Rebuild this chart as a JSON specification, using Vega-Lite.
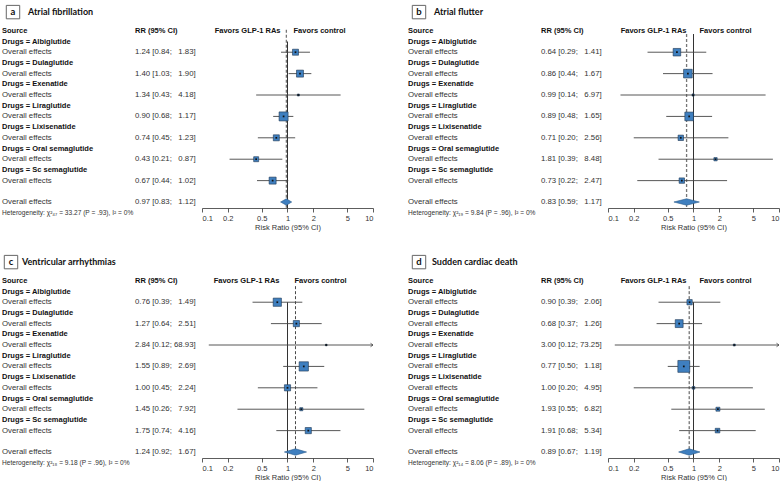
{
  "$schema": "https://vega.github.io/schema/vega-lite/v6.json",
  "padding": {"left": 2, "top": 3, "right": 0, "bottom": 0},
  "background": "white",
  "config": {
    "view": {"stroke": null},
    "font": "Arial",
    "text": {"font": "Arial", "fontSize": 7.5, "fill": "#333"},
    "axis": {"domainColor": "#333", "tickColor": "#333", "labelColor": "#333", "titleColor": "#333", "labelFont": "Arial", "titleFont": "Arial", "labelFontSize": 7.5, "titleFontSize": 7.5, "titleFontWeight": "normal", "tickSize": 4, "labelPadding": 2, "titlePadding": 2, "grid": false, "domainWidth": 0.8, "tickWidth": 0.8}
  },
  "datasets": {
    "f": [
      {"p": "a", "row": 1, "kind": "h", "label": "Drugs = Albiglutide"},
      {"p": "a", "row": 2, "kind": "s", "label": "Overall effects", "rr": 1.24, "lo": 0.84, "hi": 1.83, "ci": "1.24 [0.84; \u20071.83]", "w": 12.9},
      {"p": "a", "row": 3, "kind": "h", "label": "Drugs = Dulaglutide"},
      {"p": "a", "row": 4, "kind": "s", "label": "Overall effects", "rr": 1.40, "lo": 1.03, "hi": 1.90, "ci": "1.40 [1.03; \u20071.90]", "w": 17.5},
      {"p": "a", "row": 5, "kind": "h", "label": "Drugs = Exenatide"},
      {"p": "a", "row": 6, "kind": "s", "label": "Overall effects", "rr": 1.34, "lo": 0.43, "hi": 4.18, "ci": "1.34 [0.43; \u20074.18]", "w": 1.4},
      {"p": "a", "row": 7, "kind": "h", "label": "Drugs = Liraglutide"},
      {"p": "a", "row": 8, "kind": "s", "label": "Overall effects", "rr": 0.90, "lo": 0.68, "hi": 1.17, "ci": "0.90 [0.68; \u20071.17]", "w": 28.9},
      {"p": "a", "row": 9, "kind": "h", "label": "Drugs = Lixisenatide"},
      {"p": "a", "row": 10, "kind": "s", "label": "Overall effects", "rr": 0.74, "lo": 0.45, "hi": 1.23, "ci": "0.74 [0.45; \u20071.23]", "w": 12.9},
      {"p": "a", "row": 11, "kind": "h", "label": "Drugs = Oral semaglutide"},
      {"p": "a", "row": 12, "kind": "s", "label": "Overall effects", "rr": 0.43, "lo": 0.21, "hi": 0.87, "ci": "0.43 [0.21; \u20070.87]", "w": 8.9},
      {"p": "a", "row": 13, "kind": "h", "label": "Drugs = Sc semaglutide"},
      {"p": "a", "row": 14, "kind": "s", "label": "Overall effects", "rr": 0.67, "lo": 0.44, "hi": 1.02, "ci": "0.67 [0.44; \u20071.02]", "w": 17.5},
      {"p": "a", "row": 16, "kind": "o", "label": "Overall effects", "rr": 0.97, "lo": 0.83, "hi": 1.12, "ci": "0.97 [0.83; \u20071.12]"},
      {"p": "a", "row": 17, "kind": "het", "label": "Heterogeneity: χ²₄₇ = 33.27 (P = .93), I² = 0%"},

      {"p": "b", "row": 1, "kind": "h", "label": "Drugs = Albiglutide"},
      {"p": "b", "row": 2, "kind": "s", "label": "Overall effects", "rr": 0.64, "lo": 0.29, "hi": 1.41, "ci": "0.64 [0.29; \u20071.41]", "w": 20.4},
      {"p": "b", "row": 3, "kind": "h", "label": "Drugs = Dulaglutide"},
      {"p": "b", "row": 4, "kind": "s", "label": "Overall effects", "rr": 0.86, "lo": 0.44, "hi": 1.67, "ci": "0.86 [0.44; \u20071.67]", "w": 26.7},
      {"p": "b", "row": 5, "kind": "h", "label": "Drugs = Exenatide"},
      {"p": "b", "row": 6, "kind": "s", "label": "Overall effects", "rr": 0.99, "lo": 0.14, "hi": 6.97, "ci": "0.99 [0.14; \u20076.97]", "w": 1.7},
      {"p": "b", "row": 7, "kind": "h", "label": "Drugs = Liraglutide"},
      {"p": "b", "row": 8, "kind": "s", "label": "Overall effects", "rr": 0.89, "lo": 0.48, "hi": 1.65, "ci": "0.89 [0.48; \u20071.65]", "w": 26.7},
      {"p": "b", "row": 9, "kind": "h", "label": "Drugs = Lixisenatide"},
      {"p": "b", "row": 10, "kind": "s", "label": "Overall effects", "rr": 0.71, "lo": 0.20, "hi": 2.56, "ci": "0.71 [0.20; \u20072.56]", "w": 10.4},
      {"p": "b", "row": 11, "kind": "h", "label": "Drugs = Oral semaglutide"},
      {"p": "b", "row": 12, "kind": "s", "label": "Overall effects", "rr": 1.81, "lo": 0.39, "hi": 8.48, "ci": "1.81 [0.39; \u20078.48]", "w": 3.8},
      {"p": "b", "row": 13, "kind": "h", "label": "Drugs = Sc semaglutide"},
      {"p": "b", "row": 14, "kind": "s", "label": "Overall effects", "rr": 0.73, "lo": 0.22, "hi": 2.47, "ci": "0.73 [0.22; \u20072.47]", "w": 10.4},
      {"p": "b", "row": 16, "kind": "o", "label": "Overall effects", "rr": 0.83, "lo": 0.59, "hi": 1.17, "ci": "0.83 [0.59; \u20071.17]"},
      {"p": "b", "row": 17, "kind": "het", "label": "Heterogeneity: χ²₁₉ = 9.84 (P = .96), I² = 0%"},

      {"p": "c", "row": 1, "kind": "h", "label": "Drugs = Albiglutide"},
      {"p": "c", "row": 2, "kind": "s", "label": "Overall effects", "rr": 0.76, "lo": 0.39, "hi": 1.49, "ci": "0.76 [0.39; \u20071.49]", "w": 24.2},
      {"p": "c", "row": 3, "kind": "h", "label": "Drugs = Dulaglutide"},
      {"p": "c", "row": 4, "kind": "s", "label": "Overall effects", "rr": 1.27, "lo": 0.64, "hi": 2.51, "ci": "1.27 [0.64; \u20072.51]", "w": 13.6},
      {"p": "c", "row": 5, "kind": "h", "label": "Drugs = Exenatide"},
      {"p": "c", "row": 6, "kind": "s", "label": "Overall effects", "rr": 2.84, "lo": 0.12, "hi": 68.93, "ci": "2.84 [0.12; 68.93]", "w": 0.9},
      {"p": "c", "row": 7, "kind": "h", "label": "Drugs = Liraglutide"},
      {"p": "c", "row": 8, "kind": "s", "label": "Overall effects", "rr": 1.55, "lo": 0.89, "hi": 2.69, "ci": "1.55 [0.89; \u20072.69]", "w": 30.7},
      {"p": "c", "row": 9, "kind": "h", "label": "Drugs = Lixisenatide"},
      {"p": "c", "row": 10, "kind": "s", "label": "Overall effects", "rr": 1.00, "lo": 0.45, "hi": 2.24, "ci": "1.00 [0.45; \u20072.24]", "w": 13.6},
      {"p": "c", "row": 11, "kind": "h", "label": "Drugs = Oral semaglutide"},
      {"p": "c", "row": 12, "kind": "s", "label": "Overall effects", "rr": 1.45, "lo": 0.26, "hi": 7.92, "ci": "1.45 [0.26; \u20077.92]", "w": 3.4},
      {"p": "c", "row": 13, "kind": "h", "label": "Drugs = Sc semaglutide"},
      {"p": "c", "row": 14, "kind": "s", "label": "Overall effects", "rr": 1.75, "lo": 0.74, "hi": 4.16, "ci": "1.75 [0.74; \u20074.16]", "w": 13.6},
      {"p": "c", "row": 16, "kind": "o", "label": "Overall effects", "rr": 1.24, "lo": 0.92, "hi": 1.67, "ci": "1.24 [0.92; \u20071.67]"},
      {"p": "c", "row": 17, "kind": "het", "label": "Heterogeneity: χ²₁₈ = 9.18 (P = .96), I² = 0%"},

      {"p": "d", "row": 1, "kind": "h", "label": "Drugs = Albiglutide"},
      {"p": "d", "row": 2, "kind": "s", "label": "Overall effects", "rr": 0.90, "lo": 0.39, "hi": 2.06, "ci": "0.90 [0.39; \u20072.06]", "w": 10.0},
      {"p": "d", "row": 3, "kind": "h", "label": "Drugs = Dulaglutide"},
      {"p": "d", "row": 4, "kind": "s", "label": "Overall effects", "rr": 0.68, "lo": 0.37, "hi": 1.26, "ci": "0.68 [0.37; \u20071.26]", "w": 22.4},
      {"p": "d", "row": 5, "kind": "h", "label": "Drugs = Exenatide"},
      {"p": "d", "row": 6, "kind": "s", "label": "Overall effects", "rr": 3.00, "lo": 0.12, "hi": 73.25, "ci": "3.00 [0.12; 73.25]", "w": 1.4},
      {"p": "d", "row": 7, "kind": "h", "label": "Drugs = Liraglutide"},
      {"p": "d", "row": 8, "kind": "s", "label": "Overall effects", "rr": 0.77, "lo": 0.50, "hi": 1.18, "ci": "0.77 [0.50; \u20071.18]", "w": 50.5},
      {"p": "d", "row": 9, "kind": "h", "label": "Drugs = Lixisenatide"},
      {"p": "d", "row": 10, "kind": "s", "label": "Overall effects", "rr": 1.00, "lo": 0.20, "hi": 4.95, "ci": "1.00 [0.20; \u20074.95]", "w": 2.5},
      {"p": "d", "row": 11, "kind": "h", "label": "Drugs = Oral semaglutide"},
      {"p": "d", "row": 12, "kind": "s", "label": "Overall effects", "rr": 1.93, "lo": 0.55, "hi": 6.82, "ci": "1.93 [0.55; \u20076.82]", "w": 5.6},
      {"p": "d", "row": 13, "kind": "h", "label": "Drugs = Sc semaglutide"},
      {"p": "d", "row": 14, "kind": "s", "label": "Overall effects", "rr": 1.91, "lo": 0.68, "hi": 5.34, "ci": "1.91 [0.68; \u20075.34]", "w": 7.6},
      {"p": "d", "row": 16, "kind": "o", "label": "Overall effects", "rr": 0.89, "lo": 0.67, "hi": 1.19, "ci": "0.89 [0.67; \u20071.19]"},
      {"p": "d", "row": 17, "kind": "het", "label": "Heterogeneity: χ²₁₄ = 8.06 (P = .89), I² = 0%"}
    ]
  },
  "columns": 4,
  "spacing": {"row": 45, "column": 0},
  "bounds": "flush",
  "concat": [
    {
      "width": 200, "height": 205,
      "data": {"name": "f"},
      "transform": [{"filter": "datum.p === 'a'"}],
      "encoding": {
        "x": {"datum": 0, "type": "quantitative", "scale": {"domain": [0, 1], "nice": false, "zero": false}, "axis": null},
        "y": {"field": "row", "type": "quantitative", "scale": {"domain": [-2.6, 16.56], "reverse": true, "nice": false, "zero": false}, "axis": null}
      },
      "layer": [
        {"transform": [{"filter": "datum.kind === 'h'"}], "mark": {"type": "text", "align": "left", "baseline": "middle", "fontWeight": "bold", "fill": "#111"}, "encoding": {"text": {"field": "label"}}},
        {"transform": [{"filter": "datum.kind === 's' || datum.kind === 'o'"}], "mark": {"type": "text", "align": "left", "baseline": "middle", "fontSize": 7.8}, "encoding": {"text": {"field": "label"}}},
        {"transform": [{"filter": "datum.kind === 'het'"}], "mark": {"type": "text", "align": "left", "baseline": "middle", "fontSize": 6.6}, "encoding": {"text": {"field": "label"}}},
        {"transform": [{"filter": "datum.kind === 's' || datum.kind === 'o'"}], "mark": {"type": "text", "align": "left", "baseline": "middle", "fontSize": 7.8}, "encoding": {"x": {"datum": 0.665, "type": "quantitative"}, "text": {"field": "ci"}}},
        {"transform": [{"filter": "datum.kind === 'o'"}], "mark": {"type": "text", "align": "left", "baseline": "middle", "fontWeight": "bold", "fill": "#111"}, "encoding": {"y": {"datum": 0, "type": "quantitative"}, "text": {"value": "Source"}}},
        {"transform": [{"filter": "datum.kind === 'o'"}], "mark": {"type": "text", "align": "left", "baseline": "middle", "fontWeight": "bold", "fill": "#111"}, "encoding": {"x": {"datum": 0.665, "type": "quantitative"}, "y": {"datum": 0, "type": "quantitative"}, "text": {"value": "RR (95% CI)"}}},
        {"transform": [{"filter": "datum.kind === 'o'"}], "mark": {"type": "point", "shape": "square", "size": 180, "filled": false, "stroke": "#666", "strokeWidth": 1, "opacity": 1}, "encoding": {"x": {"datum": 0.055, "type": "quantitative"}, "y": {"datum": -1.75, "type": "quantitative"}}},
        {"transform": [{"filter": "datum.kind === 'o'"}], "mark": {"type": "text", "align": "center", "baseline": "middle", "font": "Lato", "fontWeight": "bold", "fontSize": 9.5, "fill": "#111"}, "encoding": {"x": {"datum": 0.055, "type": "quantitative"}, "y": {"datum": -1.75, "type": "quantitative"}, "text": {"value": "a"}}},
        {"transform": [{"filter": "datum.kind === 'o'"}], "mark": {"type": "text", "align": "left", "baseline": "middle", "font": "Lato", "fontWeight": "bold", "fontSize": 9, "fill": "#111"}, "encoding": {"x": {"datum": 0.13, "type": "quantitative"}, "y": {"datum": -1.75, "type": "quantitative"}, "text": {"value": "Atrial fibrillation"}}}
      ]
    },
    {
      "width": 171, "height": 205,
      "data": {"name": "f"},
      "transform": [{"filter": "datum.p === 'a'"}],
      "encoding": {
        "y": {"field": "row", "type": "quantitative", "scale": {"domain": [-2.6, 16.56], "reverse": true, "nice": false, "zero": false}, "axis": null}
      },
      "layer": [
        {"transform": [{"filter": "datum.kind === 'o'"}], "mark": {"type": "rule", "stroke": "#777", "strokeWidth": 1.3, "strokeDash": [3, 2]}, "encoding": {"x": {"field": "rr", "type": "quantitative", "scale": {"type": "log", "domain": [0.1, 10], "nice": false}, "axis": {"values": [0.1, 0.2, 0.5, 1, 2, 5, 10], "format": "~g", "title": "Risk Ratio (95% CI)"}}, "y": {"datum": -0.1, "type": "quantitative"}, "y2": {"datum": 16.56}}},
        {"transform": [{"filter": "datum.kind === 'o'"}], "mark": {"type": "rule", "stroke": "#333", "strokeWidth": 1}, "encoding": {"x": {"datum": 1, "type": "quantitative"}, "y": {"datum": 1.0, "type": "quantitative"}, "y2": {"datum": 16.56}}},
        {"transform": [{"filter": "datum.kind === 's'"}], "mark": {"type": "rule", "stroke": "#444", "strokeWidth": 0.9, "clip": true}, "encoding": {"x": {"field": "lo", "type": "quantitative"}, "x2": {"field": "hi"}}},
        {"transform": [{"filter": "datum.kind === 's' && datum.hi > 10"}], "mark": {"type": "point", "shape": "M-1,-0.7L0,0L-1,0.7", "filled": false, "stroke": "#444", "strokeWidth": 0.8, "size": 25, "opacity": 1}, "encoding": {"x": {"datum": 10, "type": "quantitative"}}},
        {"transform": [{"filter": "datum.kind === 's'"}], "mark": {"type": "point", "shape": "square", "filled": true, "fill": "#3f7fbf", "stroke": "#1f3550", "strokeWidth": 0.6, "opacity": 1}, "encoding": {"x": {"field": "rr", "type": "quantitative"}, "size": {"field": "w", "type": "quantitative", "scale": {"domain": [0, 100], "range": [0, 280]}, "legend": null}}},
        {"transform": [{"filter": "datum.kind === 's'"}], "mark": {"type": "point", "shape": "square", "filled": true, "fill": "#111", "size": 3, "opacity": 1}, "encoding": {"x": {"field": "rr", "type": "quantitative"}}},
        {"transform": [{"filter": "datum.kind === 'o'"}, {"fold": ["lo", "rr", "hi"], "as": ["k", "xv"]}, {"calculate": "datum.row - (datum.k === 'rr' ? 0.3 : 0)", "as": "yt"}, {"calculate": "datum.row + (datum.k === 'rr' ? 0.3 : 0)", "as": "yb"}], "mark": {"type": "area", "fill": "#3f7fbf", "stroke": "#2a5a8a", "strokeWidth": 0.6, "opacity": 1}, "encoding": {"x": {"field": "xv", "type": "quantitative"}, "y": {"field": "yt", "type": "quantitative"}, "y2": {"field": "yb"}}},
        {"transform": [{"filter": "datum.kind === 'o'"}], "mark": {"type": "text", "align": "right", "baseline": "middle", "fontWeight": "bold", "fill": "#111", "dx": -7}, "encoding": {"x": {"datum": 1, "type": "quantitative"}, "y": {"datum": 0, "type": "quantitative"}, "text": {"value": "Favors GLP-1 RAs"}}},
        {"transform": [{"filter": "datum.kind === 'o'"}], "mark": {"type": "text", "align": "left", "baseline": "middle", "fontWeight": "bold", "fill": "#111", "dx": 6}, "encoding": {"x": {"datum": 1, "type": "quantitative"}, "y": {"datum": 0, "type": "quantitative"}, "text": {"value": "Favors control"}}}
      ]
    },
    {
      "width": 235, "height": 205,
      "data": {"name": "f"},
      "transform": [{"filter": "datum.p === 'b'"}],
      "encoding": {
        "x": {"datum": 0, "type": "quantitative", "scale": {"domain": [-0.175, 1], "nice": false, "zero": false}, "axis": null},
        "y": {"field": "row", "type": "quantitative", "scale": {"domain": [-2.6, 16.56], "reverse": true, "nice": false, "zero": false}, "axis": null}
      },
      "layer": [
        {"transform": [{"filter": "datum.kind === 'h'"}], "mark": {"type": "text", "align": "left", "baseline": "middle", "fontWeight": "bold", "fill": "#111"}, "encoding": {"text": {"field": "label"}}},
        {"transform": [{"filter": "datum.kind === 's' || datum.kind === 'o'"}], "mark": {"type": "text", "align": "left", "baseline": "middle", "fontSize": 7.8}, "encoding": {"text": {"field": "label"}}},
        {"transform": [{"filter": "datum.kind === 'het'"}], "mark": {"type": "text", "align": "left", "baseline": "middle", "fontSize": 6.6}, "encoding": {"text": {"field": "label"}}},
        {"transform": [{"filter": "datum.kind === 's' || datum.kind === 'o'"}], "mark": {"type": "text", "align": "left", "baseline": "middle", "fontSize": 7.8}, "encoding": {"x": {"datum": 0.665, "type": "quantitative"}, "text": {"field": "ci"}}},
        {"transform": [{"filter": "datum.kind === 'o'"}], "mark": {"type": "text", "align": "left", "baseline": "middle", "fontWeight": "bold", "fill": "#111"}, "encoding": {"y": {"datum": 0, "type": "quantitative"}, "text": {"value": "Source"}}},
        {"transform": [{"filter": "datum.kind === 'o'"}], "mark": {"type": "text", "align": "left", "baseline": "middle", "fontWeight": "bold", "fill": "#111"}, "encoding": {"x": {"datum": 0.665, "type": "quantitative"}, "y": {"datum": 0, "type": "quantitative"}, "text": {"value": "RR (95% CI)"}}},
        {"transform": [{"filter": "datum.kind === 'o'"}], "mark": {"type": "point", "shape": "square", "size": 180, "filled": false, "stroke": "#666", "strokeWidth": 1, "opacity": 1}, "encoding": {"x": {"datum": 0.055, "type": "quantitative"}, "y": {"datum": -1.75, "type": "quantitative"}}},
        {"transform": [{"filter": "datum.kind === 'o'"}], "mark": {"type": "text", "align": "center", "baseline": "middle", "font": "Lato", "fontWeight": "bold", "fontSize": 9.5, "fill": "#111"}, "encoding": {"x": {"datum": 0.055, "type": "quantitative"}, "y": {"datum": -1.75, "type": "quantitative"}, "text": {"value": "b"}}},
        {"transform": [{"filter": "datum.kind === 'o'"}], "mark": {"type": "text", "align": "left", "baseline": "middle", "font": "Lato", "fontWeight": "bold", "fontSize": 9, "fill": "#111"}, "encoding": {"x": {"datum": 0.13, "type": "quantitative"}, "y": {"datum": -1.75, "type": "quantitative"}, "text": {"value": "Atrial flutter"}}}
      ]
    },
    {
      "width": 171, "height": 205,
      "data": {"name": "f"},
      "transform": [{"filter": "datum.p === 'b'"}],
      "encoding": {
        "y": {"field": "row", "type": "quantitative", "scale": {"domain": [-2.6, 16.56], "reverse": true, "nice": false, "zero": false}, "axis": null}
      },
      "layer": [
        {"transform": [{"filter": "datum.kind === 'o'"}], "mark": {"type": "rule", "stroke": "#777", "strokeWidth": 1.3, "strokeDash": [3, 2]}, "encoding": {"x": {"field": "rr", "type": "quantitative", "scale": {"type": "log", "domain": [0.1, 10], "nice": false}, "axis": {"values": [0.1, 0.2, 0.5, 1, 2, 5, 10], "format": "~g", "title": "Risk Ratio (95% CI)"}}, "y": {"datum": 0.3, "type": "quantitative"}, "y2": {"datum": 16.56}}},
        {"transform": [{"filter": "datum.kind === 'o'"}], "mark": {"type": "rule", "stroke": "#333", "strokeWidth": 1}, "encoding": {"x": {"datum": 1, "type": "quantitative"}, "y": {"datum": 0.3, "type": "quantitative"}, "y2": {"datum": 16.56}}},
        {"transform": [{"filter": "datum.kind === 's'"}], "mark": {"type": "rule", "stroke": "#444", "strokeWidth": 0.9, "clip": true}, "encoding": {"x": {"field": "lo", "type": "quantitative"}, "x2": {"field": "hi"}}},
        {"transform": [{"filter": "datum.kind === 's' && datum.hi > 10"}], "mark": {"type": "point", "shape": "M-1,-0.7L0,0L-1,0.7", "filled": false, "stroke": "#444", "strokeWidth": 0.8, "size": 25, "opacity": 1}, "encoding": {"x": {"datum": 10, "type": "quantitative"}}},
        {"transform": [{"filter": "datum.kind === 's'"}], "mark": {"type": "point", "shape": "square", "filled": true, "fill": "#3f7fbf", "stroke": "#1f3550", "strokeWidth": 0.6, "opacity": 1}, "encoding": {"x": {"field": "rr", "type": "quantitative"}, "size": {"field": "w", "type": "quantitative", "scale": {"domain": [0, 100], "range": [0, 240]}, "legend": null}}},
        {"transform": [{"filter": "datum.kind === 's'"}], "mark": {"type": "point", "shape": "square", "filled": true, "fill": "#111", "size": 3, "opacity": 1}, "encoding": {"x": {"field": "rr", "type": "quantitative"}}},
        {"transform": [{"filter": "datum.kind === 'o'"}, {"fold": ["lo", "rr", "hi"], "as": ["k", "xv"]}, {"calculate": "datum.row - (datum.k === 'rr' ? 0.3 : 0)", "as": "yt"}, {"calculate": "datum.row + (datum.k === 'rr' ? 0.3 : 0)", "as": "yb"}], "mark": {"type": "area", "fill": "#3f7fbf", "stroke": "#2a5a8a", "strokeWidth": 0.6, "opacity": 1}, "encoding": {"x": {"field": "xv", "type": "quantitative"}, "y": {"field": "yt", "type": "quantitative"}, "y2": {"field": "yb"}}},
        {"transform": [{"filter": "datum.kind === 'o'"}], "mark": {"type": "text", "align": "right", "baseline": "middle", "fontWeight": "bold", "fill": "#111", "dx": -7}, "encoding": {"x": {"datum": 1, "type": "quantitative"}, "y": {"datum": 0, "type": "quantitative"}, "text": {"value": "Favors GLP-1 RAs"}}},
        {"transform": [{"filter": "datum.kind === 'o'"}], "mark": {"type": "text", "align": "left", "baseline": "middle", "fontWeight": "bold", "fill": "#111", "dx": 6}, "encoding": {"x": {"datum": 1, "type": "quantitative"}, "y": {"datum": 0, "type": "quantitative"}, "text": {"value": "Favors control"}}}
      ]
    },
    {
      "width": 200, "height": 205,
      "data": {"name": "f"},
      "transform": [{"filter": "datum.p === 'c'"}],
      "encoding": {
        "x": {"datum": 0, "type": "quantitative", "scale": {"domain": [0, 1], "nice": false, "zero": false}, "axis": null},
        "y": {"field": "row", "type": "quantitative", "scale": {"domain": [-2.6, 16.56], "reverse": true, "nice": false, "zero": false}, "axis": null}
      },
      "layer": [
        {"transform": [{"filter": "datum.kind === 'h'"}], "mark": {"type": "text", "align": "left", "baseline": "middle", "fontWeight": "bold", "fill": "#111"}, "encoding": {"text": {"field": "label"}}},
        {"transform": [{"filter": "datum.kind === 's' || datum.kind === 'o'"}], "mark": {"type": "text", "align": "left", "baseline": "middle", "fontSize": 7.8}, "encoding": {"text": {"field": "label"}}},
        {"transform": [{"filter": "datum.kind === 'het'"}], "mark": {"type": "text", "align": "left", "baseline": "middle", "fontSize": 6.6}, "encoding": {"text": {"field": "label"}}},
        {"transform": [{"filter": "datum.kind === 's' || datum.kind === 'o'"}], "mark": {"type": "text", "align": "left", "baseline": "middle", "fontSize": 7.8}, "encoding": {"x": {"datum": 0.665, "type": "quantitative"}, "text": {"field": "ci"}}},
        {"transform": [{"filter": "datum.kind === 'o'"}], "mark": {"type": "text", "align": "left", "baseline": "middle", "fontWeight": "bold", "fill": "#111"}, "encoding": {"y": {"datum": 0, "type": "quantitative"}, "text": {"value": "Source"}}},
        {"transform": [{"filter": "datum.kind === 'o'"}], "mark": {"type": "text", "align": "left", "baseline": "middle", "fontWeight": "bold", "fill": "#111"}, "encoding": {"x": {"datum": 0.665, "type": "quantitative"}, "y": {"datum": 0, "type": "quantitative"}, "text": {"value": "RR (95% CI)"}}},
        {"transform": [{"filter": "datum.kind === 'o'"}], "mark": {"type": "point", "shape": "square", "size": 180, "filled": false, "stroke": "#666", "strokeWidth": 1, "opacity": 1}, "encoding": {"x": {"datum": 0.045, "type": "quantitative"}, "y": {"datum": -1.75, "type": "quantitative"}}},
        {"transform": [{"filter": "datum.kind === 'o'"}], "mark": {"type": "text", "align": "center", "baseline": "middle", "font": "Lato", "fontWeight": "bold", "fontSize": 9.5, "fill": "#111"}, "encoding": {"x": {"datum": 0.045, "type": "quantitative"}, "y": {"datum": -1.75, "type": "quantitative"}, "text": {"value": "c"}}},
        {"transform": [{"filter": "datum.kind === 'o'"}], "mark": {"type": "text", "align": "left", "baseline": "middle", "font": "Lato", "fontWeight": "bold", "fontSize": 9, "fill": "#111"}, "encoding": {"x": {"datum": 0.1, "type": "quantitative"}, "y": {"datum": -1.75, "type": "quantitative"}, "text": {"value": "Ventricular arrhythmias"}}}
      ]
    },
    {
      "width": 171, "height": 205,
      "data": {"name": "f"},
      "transform": [{"filter": "datum.p === 'c'"}],
      "encoding": {
        "y": {"field": "row", "type": "quantitative", "scale": {"domain": [-2.6, 16.56], "reverse": true, "nice": false, "zero": false}, "axis": null}
      },
      "layer": [
        {"transform": [{"filter": "datum.kind === 'o'"}], "mark": {"type": "rule", "stroke": "#333", "strokeWidth": 0.9, "strokeDash": [3, 2]}, "encoding": {"x": {"field": "rr", "type": "quantitative", "scale": {"type": "log", "domain": [0.1, 10], "nice": false}, "axis": {"values": [0.1, 0.2, 0.5, 1, 2, 5, 10], "format": "~g", "title": "Risk Ratio (95% CI)"}}, "y": {"datum": 0.5, "type": "quantitative"}, "y2": {"datum": 16.56}}},
        {"transform": [{"filter": "datum.kind === 'o'"}], "mark": {"type": "rule", "stroke": "#333", "strokeWidth": 1}, "encoding": {"x": {"datum": 1, "type": "quantitative"}, "y": {"datum": 2, "type": "quantitative"}, "y2": {"datum": 16.56}}},
        {"transform": [{"filter": "datum.kind === 's'"}], "mark": {"type": "rule", "stroke": "#444", "strokeWidth": 0.9, "clip": true}, "encoding": {"x": {"field": "lo", "type": "quantitative"}, "x2": {"field": "hi"}}},
        {"transform": [{"filter": "datum.kind === 's' && datum.hi > 10"}], "mark": {"type": "point", "shape": "M-1,-0.7L0,0L-1,0.7", "filled": false, "stroke": "#444", "strokeWidth": 0.8, "size": 25, "opacity": 1}, "encoding": {"x": {"datum": 10, "type": "quantitative"}}},
        {"transform": [{"filter": "datum.kind === 's'"}], "mark": {"type": "point", "shape": "square", "filled": true, "fill": "#3f7fbf", "stroke": "#1f3550", "strokeWidth": 0.6, "opacity": 1}, "encoding": {"x": {"field": "rr", "type": "quantitative"}, "size": {"field": "w", "type": "quantitative", "scale": {"domain": [0, 100], "range": [0, 264]}, "legend": null}}},
        {"transform": [{"filter": "datum.kind === 's'"}], "mark": {"type": "point", "shape": "square", "filled": true, "fill": "#111", "size": 3, "opacity": 1}, "encoding": {"x": {"field": "rr", "type": "quantitative"}}},
        {"transform": [{"filter": "datum.kind === 'o'"}, {"fold": ["lo", "rr", "hi"], "as": ["k", "xv"]}, {"calculate": "datum.row - (datum.k === 'rr' ? 0.3 : 0)", "as": "yt"}, {"calculate": "datum.row + (datum.k === 'rr' ? 0.3 : 0)", "as": "yb"}], "mark": {"type": "area", "fill": "#3f7fbf", "stroke": "#2a5a8a", "strokeWidth": 0.6, "opacity": 1}, "encoding": {"x": {"field": "xv", "type": "quantitative"}, "y": {"field": "yt", "type": "quantitative"}, "y2": {"field": "yb"}}},
        {"transform": [{"filter": "datum.kind === 'o'"}], "mark": {"type": "text", "align": "right", "baseline": "middle", "fontWeight": "bold", "fill": "#111", "dx": -8}, "encoding": {"x": {"datum": 1, "type": "quantitative"}, "y": {"datum": 0, "type": "quantitative"}, "text": {"value": "Favors GLP-1 RAs"}}},
        {"transform": [{"filter": "datum.kind === 'o'"}], "mark": {"type": "text", "align": "left", "baseline": "middle", "fontWeight": "bold", "fill": "#111", "dx": 7}, "encoding": {"x": {"datum": 1, "type": "quantitative"}, "y": {"datum": 0, "type": "quantitative"}, "text": {"value": "Favors control"}}}
      ]
    },
    {
      "width": 235, "height": 205,
      "data": {"name": "f"},
      "transform": [{"filter": "datum.p === 'd'"}],
      "encoding": {
        "x": {"datum": 0, "type": "quantitative", "scale": {"domain": [-0.175, 1], "nice": false, "zero": false}, "axis": null},
        "y": {"field": "row", "type": "quantitative", "scale": {"domain": [-2.6, 16.56], "reverse": true, "nice": false, "zero": false}, "axis": null}
      },
      "layer": [
        {"transform": [{"filter": "datum.kind === 'h'"}], "mark": {"type": "text", "align": "left", "baseline": "middle", "fontWeight": "bold", "fill": "#111"}, "encoding": {"text": {"field": "label"}}},
        {"transform": [{"filter": "datum.kind === 's' || datum.kind === 'o'"}], "mark": {"type": "text", "align": "left", "baseline": "middle", "fontSize": 7.8}, "encoding": {"text": {"field": "label"}}},
        {"transform": [{"filter": "datum.kind === 'het'"}], "mark": {"type": "text", "align": "left", "baseline": "middle", "fontSize": 6.6}, "encoding": {"text": {"field": "label"}}},
        {"transform": [{"filter": "datum.kind === 's' || datum.kind === 'o'"}], "mark": {"type": "text", "align": "left", "baseline": "middle", "fontSize": 7.8}, "encoding": {"x": {"datum": 0.665, "type": "quantitative"}, "text": {"field": "ci"}}},
        {"transform": [{"filter": "datum.kind === 'o'"}], "mark": {"type": "text", "align": "left", "baseline": "middle", "fontWeight": "bold", "fill": "#111"}, "encoding": {"y": {"datum": 0, "type": "quantitative"}, "text": {"value": "Source"}}},
        {"transform": [{"filter": "datum.kind === 'o'"}], "mark": {"type": "text", "align": "left", "baseline": "middle", "fontWeight": "bold", "fill": "#111"}, "encoding": {"x": {"datum": 0.665, "type": "quantitative"}, "y": {"datum": 0, "type": "quantitative"}, "text": {"value": "RR (95% CI)"}}},
        {"transform": [{"filter": "datum.kind === 'o'"}], "mark": {"type": "point", "shape": "square", "size": 180, "filled": false, "stroke": "#666", "strokeWidth": 1, "opacity": 1}, "encoding": {"x": {"datum": 0.055, "type": "quantitative"}, "y": {"datum": -1.75, "type": "quantitative"}}},
        {"transform": [{"filter": "datum.kind === 'o'"}], "mark": {"type": "text", "align": "center", "baseline": "middle", "font": "Lato", "fontWeight": "bold", "fontSize": 9.5, "fill": "#111"}, "encoding": {"x": {"datum": 0.055, "type": "quantitative"}, "y": {"datum": -1.75, "type": "quantitative"}, "text": {"value": "d"}}},
        {"transform": [{"filter": "datum.kind === 'o'"}], "mark": {"type": "text", "align": "left", "baseline": "middle", "font": "Lato", "fontWeight": "bold", "fontSize": 9, "fill": "#111"}, "encoding": {"x": {"datum": 0.12, "type": "quantitative"}, "y": {"datum": -1.75, "type": "quantitative"}, "text": {"value": "Sudden cardiac death"}}}
      ]
    },
    {
      "width": 171, "height": 205,
      "data": {"name": "f"},
      "transform": [{"filter": "datum.p === 'd'"}],
      "encoding": {
        "y": {"field": "row", "type": "quantitative", "scale": {"domain": [-2.6, 16.56], "reverse": true, "nice": false, "zero": false}, "axis": null}
      },
      "layer": [
        {"transform": [{"filter": "datum.kind === 'o'"}], "mark": {"type": "rule", "stroke": "#333", "strokeWidth": 0.9, "strokeDash": [3, 2]}, "encoding": {"x": {"field": "rr", "type": "quantitative", "scale": {"type": "log", "domain": [0.1, 10], "nice": false}, "axis": {"values": [0.1, 0.2, 0.5, 1, 2, 5, 10], "format": "~g", "title": "Risk Ratio (95% CI)"}}, "y": {"datum": 0.5, "type": "quantitative"}, "y2": {"datum": 16.56}}},
        {"transform": [{"filter": "datum.kind === 'o'"}], "mark": {"type": "rule", "stroke": "#333", "strokeWidth": 1}, "encoding": {"x": {"datum": 1, "type": "quantitative"}, "y": {"datum": 2, "type": "quantitative"}, "y2": {"datum": 16.56}}},
        {"transform": [{"filter": "datum.kind === 's'"}], "mark": {"type": "rule", "stroke": "#444", "strokeWidth": 0.9, "clip": true}, "encoding": {"x": {"field": "lo", "type": "quantitative"}, "x2": {"field": "hi"}}},
        {"transform": [{"filter": "datum.kind === 's' && datum.hi > 10"}], "mark": {"type": "point", "shape": "M-1,-0.7L0,0L-1,0.7", "filled": false, "stroke": "#444", "strokeWidth": 0.8, "size": 25, "opacity": 1}, "encoding": {"x": {"datum": 10, "type": "quantitative"}}},
        {"transform": [{"filter": "datum.kind === 's'"}], "mark": {"type": "point", "shape": "square", "filled": true, "fill": "#3f7fbf", "stroke": "#1f3550", "strokeWidth": 0.6, "opacity": 1}, "encoding": {"x": {"field": "rr", "type": "quantitative"}, "size": {"field": "w", "type": "quantitative", "scale": {"domain": [0, 100], "range": [0, 160]}, "legend": null}}},
        {"transform": [{"filter": "datum.kind === 's'"}], "mark": {"type": "point", "shape": "square", "filled": true, "fill": "#111", "size": 3, "opacity": 1}, "encoding": {"x": {"field": "rr", "type": "quantitative"}}},
        {"transform": [{"filter": "datum.kind === 'o'"}, {"fold": ["lo", "rr", "hi"], "as": ["k", "xv"]}, {"calculate": "datum.row - (datum.k === 'rr' ? 0.3 : 0)", "as": "yt"}, {"calculate": "datum.row + (datum.k === 'rr' ? 0.3 : 0)", "as": "yb"}], "mark": {"type": "area", "fill": "#3f7fbf", "stroke": "#2a5a8a", "strokeWidth": 0.6, "opacity": 1}, "encoding": {"x": {"field": "xv", "type": "quantitative"}, "y": {"field": "yt", "type": "quantitative"}, "y2": {"field": "yb"}}},
        {"transform": [{"filter": "datum.kind === 'o'"}], "mark": {"type": "text", "align": "right", "baseline": "middle", "fontWeight": "bold", "fill": "#111", "dx": -7}, "encoding": {"x": {"datum": 1, "type": "quantitative"}, "y": {"datum": 0, "type": "quantitative"}, "text": {"value": "Favors GLP-1 RAs"}}},
        {"transform": [{"filter": "datum.kind === 'o'"}], "mark": {"type": "text", "align": "left", "baseline": "middle", "fontWeight": "bold", "fill": "#111", "dx": 6}, "encoding": {"x": {"datum": 1, "type": "quantitative"}, "y": {"datum": 0, "type": "quantitative"}, "text": {"value": "Favors control"}}}
      ]
    }
  ]
}
